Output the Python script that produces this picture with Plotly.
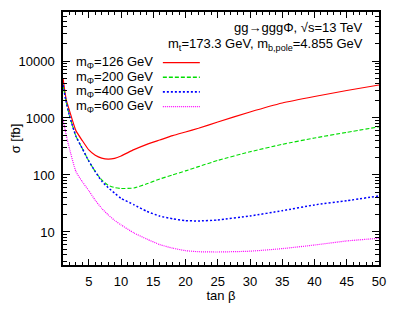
import plotly.graph_objects as go

# ---- data ----
tanb = [1, 1.5, 2, 3, 4, 5, 6, 7, 8, 9, 10, 12, 14, 16, 18, 20, 22, 25, 30, 35, 40, 45, 50]
sig_126 = [5000, 2100, 1350, 600, 400, 275, 222, 198, 190, 196, 215, 278, 345, 411, 490, 568,
           660, 851, 1274, 1832, 2383, 3036, 3794]
sig_200 = [3800, 1900, 1100, 480, 290, 175, 115, 82, 66, 60, 58, 59, 70, 85, 100, 118,
           140, 180, 255, 345, 445, 560, 700]
sig_400 = [3800, 1900, 1100, 480, 290, 175, 115, 78, 60, 48, 39, 30, 23, 19, 17, 15.8,
           15.6, 16.2, 19.1, 23.6, 29.8, 35.4, 42.8]
sig_600 = [950, 500, 290, 115, 76, 53, 36, 26, 20, 16, 13.3, 9.6, 7.5, 6.0, 5.2, 4.7,
           4.5, 4.45, 4.6, 5.1, 5.9, 6.95, 7.75]

names = ["m<sub>Φ</sub>=126 GeV", "m<sub>Φ</sub>=200 GeV", "m<sub>Φ</sub>=400 GeV", "m<sub>Φ</sub>=600 GeV"]
series = [sig_126, sig_200, sig_400, sig_600]
colors = ["#ff0000", "#00dd00", "#0000ff", "#ff00ff"]
dashes = ["solid", "4px,2px", "2px,2px", "1px,1px"]
widths = [1.2, 1.1, 1.5, 1.2]

x_ticks = [5, 10, 15, 20, 25, 30, 35, 40, 45, 50]
y_ticks = [10, 100, 1000, 10000]
y_ticktext = ["10", "100", "1000", "10000"]

FONT = "Liberation Sans, Arial, Helvetica, sans-serif"

fig = go.Figure()
for n, s, c, d, w in zip(names, series, colors, dashes, widths):
    fig.add_trace(go.Scatter(x=tanb, y=s, mode="lines", name=n,
                             line=dict(color=c, dash=d, width=w, shape="spline", smoothing=0.5),
                             showlegend=False))

# manual gnuplot-style legend: text then line sample
row_y = [0.800, 0.742, 0.684, 0.626]
for n, c, d, w, yy in zip(names, colors, dashes, widths, row_y):
    fig.add_annotation(xref="paper", yref="paper", x=0.292, y=yy, text=n, showarrow=False,
                       xanchor="right", yanchor="middle", font=dict(size=13, color="black", family=FONT))
    fig.add_shape(type="line", xref="paper", yref="paper", x0=0.316, x1=0.433, y0=yy, y1=yy,
                  line=dict(color=c, dash=d, width=w + 0.2))

fig.add_annotation(xref="paper", yref="paper", x=0.956, y=0.937,
                   text="gg→gggΦ, √s=13 TeV", showarrow=False, xanchor="right", yanchor="middle",
                   font=dict(size=13, color="black", family=FONT))
fig.add_annotation(xref="paper", yref="paper", x=0.956, y=0.872,
                   text="m<sub>t</sub>=173.3 GeV, m<sub>b,pole</sub>=4.855 GeV", showarrow=False,
                   xanchor="right", yanchor="middle",
                   font=dict(size=13, color="black", family=FONT))

minor_y = [m * 10 ** e for e in range(0, 5) for m in range(2, 10)]

# the page body adds an 8px offset; size/margins compensate so the plot box lands at 63..379 x 12..265
fig.update_layout(
    width=379, height=295,
    margin=dict(l=55, r=8, t=4, b=38, autoexpand=False),
    paper_bgcolor="white", plot_bgcolor="white",
    font=dict(family=FONT, size=13, color="black"),
    xaxis=dict(range=[1, 50], tickvals=x_ticks, ticks="inside", ticklen=6, tickwidth=1,
               tickcolor="black", showline=True, linecolor="black", linewidth=1.5,
               mirror="allticks", showgrid=False, zeroline=False, ticklabelstandoff=4,
               automargin=False,
               minor=dict(ticks="inside", ticklen=3, dtick=1, tickcolor="black", showgrid=False),
               title=dict(text="tan β", standoff=8, font=dict(size=13)),
               tickfont=dict(size=13)),
    yaxis=dict(type="log", range=[0.42, 4.86], tickvals=y_ticks, ticktext=y_ticktext,
               ticks="inside", ticklen=7, tickwidth=1, tickcolor="black",
               showline=True, linecolor="black", linewidth=1.5, mirror="allticks",
               showgrid=False, zeroline=False, ticklabelstandoff=4, automargin=False,
               minor=dict(ticks="inside", ticklen=4, tickvals=minor_y, tickcolor="black", showgrid=False),
               title=dict(text="σ [fb]", standoff=14, font=dict(size=13)),
               tickfont=dict(size=13)),
)

fig.write_html("out.html")
